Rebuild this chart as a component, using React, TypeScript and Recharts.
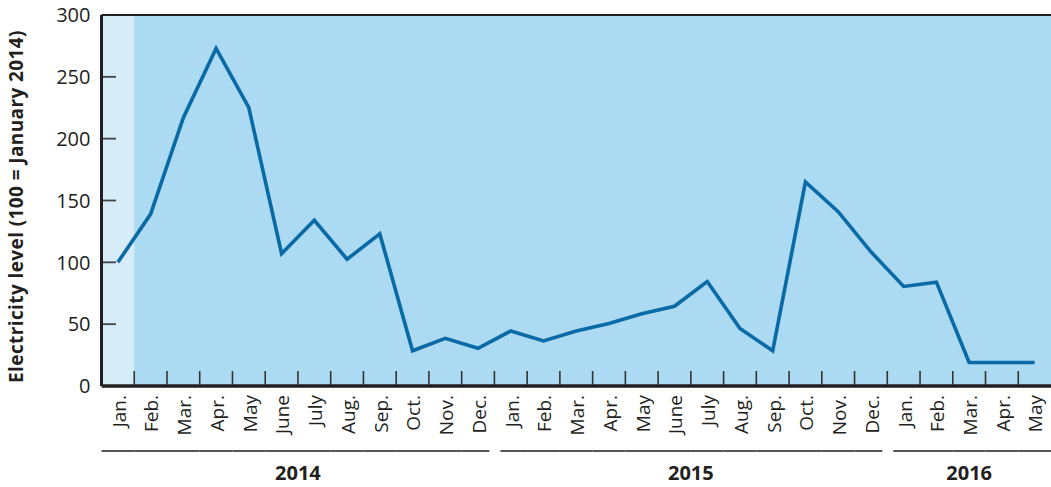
import React from "react";
import {
  ComposedChart,
  Line,
  XAxis,
  YAxis,
  CartesianGrid,
  ReferenceArea,
  ReferenceLine,
  Label,
} from "recharts";

const monthLabels = [
  "Jan.", "Feb.", "Mar.", "Apr.", "May", "June", "July", "Aug.", "Sep.", "Oct.", "Nov.", "Dec.",
  "Jan.", "Feb.", "Mar.", "Apr.", "May", "June", "July", "Aug.", "Sep.", "Oct.", "Nov.", "Dec.",
  "Jan.", "Feb.", "Mar.", "Apr.", "May",
];
const yearLabels = [
  "2014", "2014", "2014", "2014", "2014", "2014", "2014", "2014", "2014", "2014", "2014", "2014",
  "2015", "2015", "2015", "2015", "2015", "2015", "2015", "2015", "2015", "2015", "2015", "2015",
  "2016", "2016", "2016", "2016", "2016",
];
const electricity = [
  100, 139, 217, 273, 225, 107, 134, 102.5, 123, 28.5, 38.5, 30.5,
  44.5, 36.5, 44.5, 50.5, 58.5, 64.5, 84.5, 46.5, 28.5, 165, 141, 108.5,
  80.5, 84, 19, 19, 19,
];
const yTicks = [0, 50, 100, 150, 200, 250, 300];
const yLabel = "Electricity level (100 = January 2014)";

const data = electricity.map((v, i) => ({ key: `${yearLabels[i]}-${i}`, value: v }));

const FONT = "'Open Sans', 'Noto Sans', sans-serif";
const TEXT = "#231f20";

const XTick = (props: any) => {
  const { x, y, payload } = props;
  const i: number = props.index ?? payload.index;
  const half: number = payload.offset ?? 16.37;
  const n = monthLabels.length;
  const start = x - half;
  const end = x + half;
  const yr = yearLabels[i];
  const firstOfYear = i === 0 || yearLabels[i - 1] !== yr;
  const lastOfYear = i === n - 1 || yearLabels[i + 1] !== yr;
  const ls = start + (firstOfYear && i > 0 ? 6 : 0);
  const le = end - (lastOfYear && i < n - 1 ? 5 : 0);
  const count = yearLabels.filter((v) => v === yr).length;
  return (
    <g>
      {i > 0 && (
        <line x1={start} x2={start} y1={y - 1} y2={y - 15} stroke="#333" strokeWidth={1.6} />
      )}
      <text
        transform={`translate(${x + 1},${y + 9}) rotate(-90)`}
        textAnchor="end"
        dy="0.36em"
        fontSize={19}
        fontFamily={FONT}
        fill={TEXT}
      >
        {monthLabels[i]}
      </text>
      <line x1={ls} x2={le} y1={y + 65} y2={y + 65} stroke="#555" strokeWidth={2} />
      {firstOfYear && (
        <text
          x={start + count * half}
          y={y + 94}
          textAnchor="middle"
          fontSize={20}
          fontWeight="bold"
          fontFamily={FONT}
          fill={TEXT}
        >
          {yr}
        </text>
      )}
    </g>
  );
};

const YTick = (props: any) => {
  const { x, y, payload } = props;
  const v = payload.value;
  return (
    <g>
      {v > 0 && v < 300 && (
        <line x1={x + 1.5} x2={x + 14.5} y1={y} y2={y} stroke="#444" strokeWidth={1.8} />
      )}
      <text
        x={x - 11}
        y={y}
        dy="0.36em"
        textAnchor="end"
        fontSize={20}
        fontFamily={FONT}
        fill={TEXT}
      >
        {v}
      </text>
    </g>
  );
};

const YLabel = (props: any) => {
  const vb = props.viewBox || { x: 0, y: 15, width: 101.5, height: 371 };
  return (
    <text
      transform={`translate(${vb.x + 23},${vb.y + vb.height / 2 + 6}) rotate(-90)`}
      textAnchor="middle"
      fontSize={19}
      letterSpacing={0.4}
      fontWeight="bold"
      fontFamily={FONT}
      fill={TEXT}
    >
      {yLabel}
    </text>
  );
};

export default function App() {
  return (
    <div style={{ position: "absolute", left: 0, top: 0, width: 1051, height: 487, background: "#fff" }}>
      <ComposedChart
        width={1051}
        height={487}
        data={data}
        margin={{ top: 15, right: 0, bottom: 0, left: 0 }}
      >
        <CartesianGrid horizontal={false} vertical={false} fill="#abdaf2" />
        <ReferenceArea
          x1={data[0].key}
          x2={data[0].key}
          y1={0}
          y2={300}
          fill="#d6edf9"
          fillOpacity={1}
          stroke="none"
        />
        <XAxis
          dataKey="key"
          scale="band"
          interval={0}
          height={101}
          tickSize={0}
          tickMargin={0}
          tickLine={false}
          axisLine={{ stroke: "#231f20", strokeWidth: 3.5 }}
          tick={<XTick />}
        />
        <YAxis
          domain={[0, 300]}
          ticks={yTicks}
          width={101.5}
          tickSize={0}
          tickMargin={0}
          tickLine={false}
          axisLine={{ stroke: "#231f20", strokeWidth: 3 }}
          tick={<YTick />}
        >
          <Label content={<YLabel />} />
        </YAxis>
        <ReferenceLine y={300} stroke="#231f20" strokeWidth={2} />
        <Line
          type="linear"
          dataKey="value"
          stroke="#0a6aa6"
          strokeWidth={3.6}
          dot={false}
          activeDot={false}
          isAnimationActive={false}
        />
      </ComposedChart>
    </div>
  );
}
